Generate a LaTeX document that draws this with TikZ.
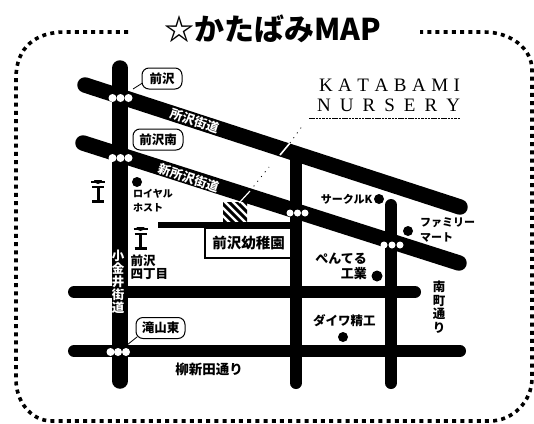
\documentclass[tikz,border=0pt]{standalone}
\usepackage{fontspec}
\newfontfamily\jp{Noto Sans CJK JP}
\setmainfont{Liberation Serif}
\newcommand{\jpfs}[2]{\jp\bfseries\fontsize{#1}{#2}\selectfont}
\tikzset{
 x=1pt,y=-1pt,
 road/.style={line width=15.5pt,line cap=round,black},
 thinroad/.style={line width=12pt,line cap=round,black},
 frameline/.style={line width=3.6pt,dash pattern=on 4pt off 4.2pt,black},
 stationdot/.style={circle,fill=white,inner sep=0pt,minimum size=8pt},
 place/.style={circle,fill=black,inner sep=0pt,minimum size=10pt},
 lbl/.style={align=left,inner sep=0pt,text=black},
 wlbl/.style={font=\jpfs{12.5}{13},inner sep=0pt,text=white},
 bubble/.style={draw,rounded corners=7pt,line width=1pt,fill=white,font=\jpfs{12.5}{13},inner xsep=0pt,inner ysep=0pt,minimum height=21pt},
 speck/.style={black,line width=.8pt,dash pattern=on 1pt off 5pt},
}
\begin{document}
\begin{tikzpicture}
\useasboundingbox (0,0) rectangle (534,423);
\fill[white] (0,0) rectangle (534,423);
% frame
\coordinate (fa) at (128,32);
\coordinate (fb) at (420,32);
\draw[frameline] (fa) -- (65,32) .. controls (35,32) and (16,48) .. (16,78) -- (16,380) .. controls (16,400) and (30,421) .. (52,421) -- (490,421) .. controls (512,421) and (532,402) .. (532,378) -- (532,70) .. controls (532,48) and (510,32) .. (484,32) -- (fb);
\node[font=\jpfs{30}{32},inner sep=0pt,anchor=west] (title) at (164,29) {☆かたばみMAP};
% roads
\coordinate (ks) at (120,68);\coordinate (ke) at (120,381);
\draw[road] (ks) -- (ke);
\coordinate (r1a) at (85,85);\coordinate (r1b) at (460,207);
\draw[road] (r1a) -- (r1b);
\coordinate (r2a) at (83,143);\coordinate (r2b) at (459,263);
\draw[road] (r2a) -- (r2b);
\coordinate (v1a) at (296,160);\coordinate (v1b) at (296,383);
\coordinate (v2a) at (391,205);\coordinate (v2b) at (391,383);
\coordinate (h1a) at (74,292);\coordinate (h1b) at (415,292);
\coordinate (h2a) at (74,351);\coordinate (h2b) at (460,351);
\coordinate (sa) at (158,225);\coordinate (sb) at (292,225);
\node[draw=black,line width=1.2pt,fill=white,font=\jpfs{14.5}{16},minimum width=87pt,minimum height=30pt,inner sep=0pt] (yochien) at (248.5,243) {前沢幼稚園};
\draw[thinroad] (v1a) -- (v1b);
\draw[thinroad] (v2a) -- (v2b);
\draw[thinroad] (h1a) -- (h1b);
\draw[thinroad] (h2a) -- (h2b);
\draw[black,line width=6pt] (sa) -- (sb);
% school plot
\fill[white] (223,202) rectangle (247,222);
\begin{scope}
\clip (223,202) rectangle (247,222);
\foreach \d in {-20,-12,...,28}{
 \draw[black,line width=3pt] (223+\d,200) -- (223+\d+26,226);
}
\end{scope}
% leaders
\coordinate (leadA) at (239,203);\coordinate (leadB) at (250,191);\coordinate (leadC) at (269,167);
\draw[white,line width=1.2pt] (leadA) -- (leadB);
\draw[speck] (leadB) -- (leadC);
\coordinate (slashA) at (280,155);\coordinate (slashB) at (290,143);\coordinate (slashC) at (303,125);
\draw[white,line width=1.6pt] (slashA) -- (slashB);
\draw[speck] (slashB) -- (slashC);
% stations
\node[stationdot] (a1) at (112.5,98) {};\node[stationdot] (a2) at (120.5,98) {};\node[stationdot] (a3) at (128.5,98) {};
\node[stationdot] (b1) at (112.5,158) {};\node[stationdot] (b2) at (120.5,158) {};\node[stationdot] (b3) at (128.5,158) {};
\node[stationdot] (c1) at (110.5,352) {};\node[stationdot] (c2) at (118,352) {};\node[stationdot] (c3) at (126,352) {};
\node[stationdot,minimum size=7pt] (d1) at (290,213) {};\node[stationdot,minimum size=7pt] (d2) at (297.5,213) {};\node[stationdot,minimum size=7pt] (d3) at (305,213) {};
\node[stationdot,minimum size=7pt] (e1) at (384,245) {};\node[stationdot,minimum size=7pt] (e2) at (392,245) {};\node[stationdot,minimum size=7pt] (e3) at (400,245) {};
% bubbles
\node[bubble,minimum width=40pt] (maezawa) at (162,78.5) {前沢};
\coordinate (t1) at (133,89);
\draw[line width=.8pt] (142.5,83) -- (t1);
\node[bubble,minimum width=50pt] (mminami) at (158,139.5) {前沢南};
\node[bubble,minimum width=49pt] (taki) at (160.5,328) {滝山東};
\coordinate (t3) at (127,345);
\draw[line width=.8pt] (137,337) -- (t3);
% road labels
\node[wlbl,rotate=-18] (l1) at (195,121) {所沢街道};
\node[wlbl,rotate=-18] (l2) at (189,178) {新所沢街道};
\node[font=\jpfs{12.5}{13},text=white,align=center,inner sep=0pt] (l3) at (118,282) {小\\金\\井\\街\\道};
% lamps
\foreach \X/\Y/\n in {98/177/p1,140.5/224/p2}{
 \coordinate (\n) at (\X,\Y);
 \fill[black] (\X-4,\Y+3) arc[start angle=180,end angle=0,radius=4] -- cycle;
 \draw[black,line width=1.6pt] (\X-7,\Y+5) -- (\X+7,\Y+5);
 \draw[black,line width=1.6pt] (\X-6,\Y+10) -- (\X+6,\Y+10);
 \draw[black,line width=3pt] (\X,\Y+10) -- (\X,\Y+24);
 \draw[black,line width=2.2pt] (\X-6,\Y+24.5) -- (\X+6,\Y+24.5);
}
% places
\node[place] (royal) at (137,182) {};
\node[lbl,anchor=north west,font=\jpfs{10}{14}] (royalt) at (133,189.5) {ロイヤル\\ホスト};
\node[lbl,anchor=north west,font=\jpfs{12.5}{12.5}] (shi) at (130.5,255) {前沢\\四丁目};
\node[lbl,anchor=east,font=\jpfs{11}{12}] (circlek) at (372.5,199) {サークルK};
\node[place] (ckdot) at (379,199) {};
\node[place] (fm) at (408,231) {};
\node[lbl,anchor=north west,font=\jpfs{11}{14.5}] (fmt) at (420,218) {ファミリー\\マート};
\node[lbl,anchor=north east,align=right,font=\jpfs{13}{15}] (pen) at (367,253) {ぺんてる\\工業};
\node[place,minimum size=11pt] (pd) at (377,276) {};
\node[lbl,anchor=west,font=\jpfs{12.5}{13}] (daiwa) at (313,321) {ダイワ精工};
\node[place] (dd) at (343,337) {};
\node[lbl,font=\jpfs{12.5}{13.5},align=center] (mm) at (439,307) {南\\町\\通\\り};
\node[lbl,font=\jpfs{13.5}{14}] (yana) at (209,369) {柳新田通り};
% logo
\node[font=\fontsize{19}{20}\selectfont,inner sep=0pt,anchor=center] (logo1) at (389.5,85) {\makebox[141pt][s]{K\hfil A\hfil T\hfil A\hfil B\hfil A\hfil M\hfil I}};
\node[font=\fontsize{19}{20}\selectfont,inner sep=0pt,anchor=center] (logo2) at (388.5,105) {\makebox[143pt][s]{N\hfil U\hfil R\hfil S\hfil E\hfil R\hfil Y}};
\coordinate (u1) at (309,118);\coordinate (u2) at (460,118);
\draw[black,line width=1pt,dash pattern=on 2.5pt off .8pt] (u1) -- (u2);
\end{tikzpicture}
\end{document}
